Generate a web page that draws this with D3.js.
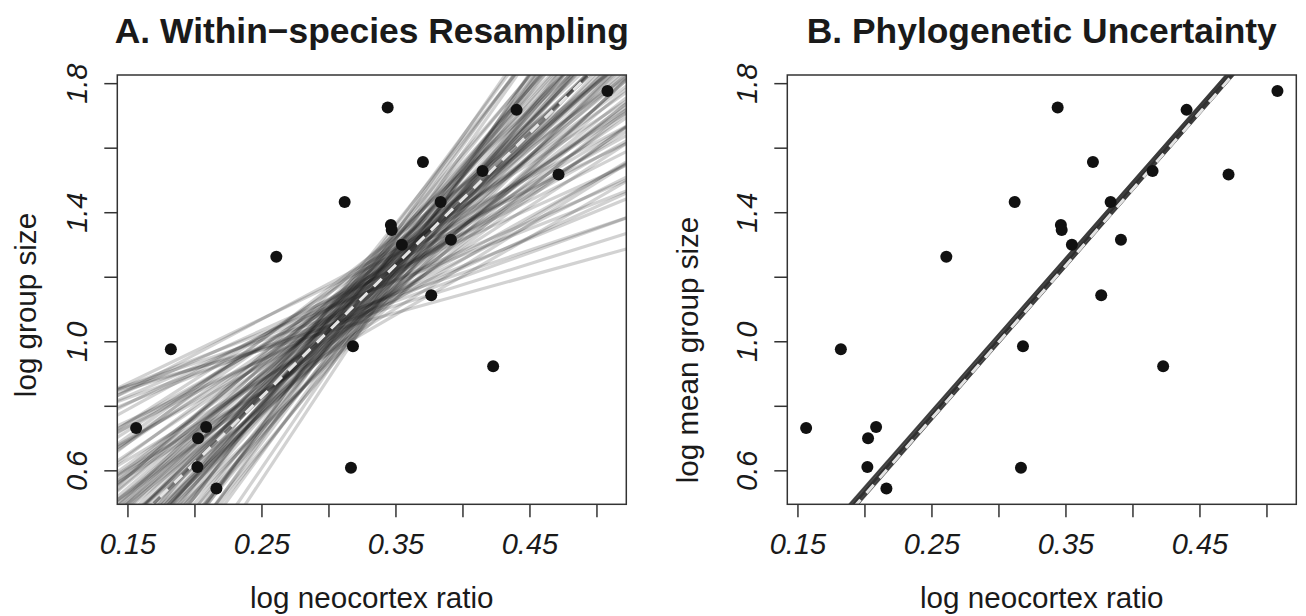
<!DOCTYPE html>
<html>
<head>
<meta charset="utf-8">
<script src="https://cdn.jsdelivr.net/npm/d3@7"></script>
<style>
  body { margin: 0; background: #fff; }
  svg { display: block; font-family: "Liberation Sans", Arial, sans-serif; }
</style>
</head>
<body>
<svg width="1306" height="616"></svg>
<script>
// species points (same in both panels)
const neocortex = [0.3442, 0.4404, 0.5082, 0.3705, 0.4150, 0.4717, 0.3121, 0.3837,
  0.3466, 0.3472, 0.3548, 0.3914, 0.3767, 0.3183, 0.4229, 0.3168, 0.2611, 0.1824,
  0.1565, 0.2087, 0.2027, 0.2022, 0.2164]
const groupSize = [1.7246, 1.7172, 1.7760, 1.5558, 1.5278, 1.5166, 1.4316, 1.4316,
  1.3602, 1.3447, 1.2994, 1.3149, 1.1430, 0.9847, 0.9226, 0.6082, 1.2621, 0.9754,
  0.7314, 0.7345, 0.6991, 0.6104, 0.5440]

// every fitted line is given as slope and its value at x = 0.33
const pivotX = 0.33

// A: regression lines from within-species resampling
const fanSlope = [4.10, 3.90, 4.30, 3.70, 4.50, 3.50, 4.70, 3.30, 4.90, 3.10, 5.10, 2.90,
  5.30, 2.70, 5.50, 2.50, 4.00, 4.20, 3.80, 4.40, 3.60, 4.60, 3.40, 4.80, 3.00, 5.00,
  2.30, 5.80, 2.00, 6.10, 1.70, 1.40, 1.15, 6.30, 4.05, 3.95, 4.15, 3.85, 4.25, 3.75,
  4.35, 3.65, 2.20, 1.90, 2.60, 5.60, 5.20, 3.20, 1.50, 2.80, 5.40, 4.55, 3.55, 1.30,
  2.40, 6.00, 3.35, 4.75, 1.80, 2.10, 2.65, 3.05, 2.35, 3.45,
  4.12, 3.88, 4.28, 3.72, 4.48, 3.52, 4.68, 3.28, 4.88, 3.08, 5.08, 2.88, 5.28, 2.68,
  5.48, 2.48, 4.02, 3.98, 4.22, 3.78, 4.42, 3.58, 4.62, 3.38, 4.82, 3.18, 5.02, 2.98,
  5.22, 2.78, 2.58, 2.28, 2.08, 1.88, 1.62, 5.72, 5.92, 3.92, 4.18, 3.62]
const fanPivot = [1.154, 1.184, 1.124, 1.169, 1.199, 1.109, 1.139, 1.199, 1.184, 1.139,
  1.109, 1.214, 1.169, 1.094, 1.124, 1.184, 1.094, 1.214, 1.079, 1.229, 1.229, 1.079,
  1.064, 1.244, 1.244, 1.064, 1.109, 1.199, 1.229, 1.094, 1.114, 1.114, 1.065, 1.074,
  1.169, 1.139, 1.184, 1.199, 1.109, 1.124, 1.154, 1.154, 1.244, 1.094, 1.049, 1.244,
  1.259, 1.259, 1.094, 1.154, 1.154, 1.169, 1.184, 1.084, 1.034, 1.214, 1.094, 1.214,
  1.154, 1.184, 1.199, 1.079, 1.169, 1.214,
  1.109, 1.214, 1.184, 1.094, 1.139, 1.199, 1.184, 1.124, 1.094, 1.199, 1.214, 1.109,
  1.079, 1.229, 1.229, 1.079, 1.244, 1.049, 1.064, 1.259, 1.154, 1.139, 1.229, 1.169,
  1.124, 1.094, 1.184, 1.154, 1.139, 1.184, 1.154, 1.199, 1.109, 1.184, 1.154, 1.109,
  1.169, 1.154, 1.139, 1.184]

// B: regression lines over the tree sample
const phyloSlope = [4.74, 4.73, 4.75, 4.74, 4.72, 4.76, 4.74, 4.73, 4.75]
const phyloPivot = [1.162, 1.153, 1.154, 1.145, 1.146, 1.146, 1.136, 1.163, 1.135]

// dashed mean fits, panel A then B
const meanSlope = [4.088, 4.74]
const meanPivot = [1.154, 1.139]

const xTicks = [0.15, 0.20, 0.25, 0.30, 0.35, 0.40, 0.45, 0.50]
const xTickLabels = ['0.15', '0.25', '0.35', '0.45']
const yTicks = [0.6, 0.8, 1.0, 1.2, 1.4, 1.6, 1.8]
const yTickLabels = ['0.6', '1.0', '1.4', '1.8']

const titles = ['A. Within\u2212species Resampling', 'B. Phylogenetic Uncertainty']
const yTitles = ['log group size', 'log mean group size']
const xTitle = 'log neocortex ratio'

const svg = d3.select('svg')
const plotTop = 75, plotBottom = 504.3, boxW = 509
const lefts = [117.3, 787.3]
const yTitleX = [36, 698]
const yTitleMid = [305, 350]

// R style axis range: data range padded by 4%
function pad (ext) {
  const r = ext[1] - ext[0]
  return [ext[0] - 0.04 * r, ext[1] + 0.04 * r]
}
const xDom = pad(d3.extent(neocortex))
const yDom = pad(d3.extent(groupSize))

lefts.forEach((left, i) => {
  const x = d3.scaleLinear().domain(xDom).range([left, left + boxW])
  const y = d3.scaleLinear().domain(yDom).range([plotBottom, plotTop])
  const g = svg.append('g')

  g.append('clipPath').attr('id', 'clip' + i).
    append('rect').
    attr('x', left).attr('y', plotTop).
    attr('width', boxW).attr('height', plotBottom - plotTop)

  const lines = g.append('g').attr('clip-path', `url(#clip${i})`)
  const fit = (p, b) => sel => sel.
    attr('x1', x(xDom[0])).attr('y1', y(p + b * (xDom[0] - pivotX))).
    attr('x2', x(xDom[1])).attr('y2', y(p + b * (xDom[1] - pivotX)))

  if (i === 0) {
    lines.selectAll('line.fan').data(d3.zip(fanPivot, fanSlope)).
      join('line').
      attr('class', 'fan').
      each(function (d) { d3.select(this).call(fit(d[0], d[1])) }).
      attr('stroke', '#202020').
      attr('stroke-opacity', 0.2).
      attr('stroke-width', 3.2)
  } else {
    lines.selectAll('line.phy').data(d3.zip(phyloPivot, phyloSlope)).
      join('line').
      attr('class', 'phy').
      each(function (d) { d3.select(this).call(fit(d[0], d[1])) }).
      attr('stroke', '#2a2a2a').
      attr('stroke-opacity', 0.7).
      attr('stroke-width', 2)
  }

  lines.append('line').
    call(fit(meanPivot[i], meanSlope[i])).
    attr('stroke', '#e4e4e4').
    attr('stroke-width', 3).
    attr('stroke-dasharray', '11,9')

  g.selectAll('circle').data(d3.zip(neocortex, groupSize)).
    join('circle').
    attr('cx', d => x(d[0])).
    attr('cy', d => y(d[1])).
    attr('r', 6).
    attr('fill', '#111')

  g.append('rect').
    attr('x', left).attr('y', plotTop).
    attr('width', boxW).attr('height', plotBottom - plotTop).
    attr('fill', 'none').
    attr('stroke', '#333').
    attr('stroke-width', 1.5)

  // x axis
  const xAxis = g.append('g').attr('transform', `translate(0,${plotBottom})`).
    call(d3.axisBottom(x).tickValues(xTicks).tickSize(13).tickPadding(16).
      tickFormat(d => xTickLabels.includes(d.toFixed(2)) ? d.toFixed(2) : ''))
  xAxis.select('.domain').remove()
  xAxis.selectAll('line').attr('stroke', '#333').attr('stroke-width', 1.5)
  xAxis.selectAll('text').
    attr('font-size', 29).
    attr('font-style', 'italic').
    attr('font-family', '"Liberation Sans", Arial, sans-serif').
    attr('fill', '#1a1a1a')

  // y axis
  const yAxis = g.append('g').attr('transform', `translate(${left},0)`).
    call(d3.axisLeft(y).tickValues(yTicks).tickSize(13).
      tickFormat(d => yTickLabels.includes(d.toFixed(1)) ? d.toFixed(1) : ''))
  yAxis.select('.domain').remove()
  yAxis.selectAll('line').attr('stroke', '#333').attr('stroke-width', 1.5)
  yAxis.selectAll('text').
    attr('x', null).attr('dy', null).
    attr('transform', 'translate(-30,0) rotate(-90)').
    attr('text-anchor', 'middle').
    attr('font-size', 29).
    attr('font-style', 'italic').
    attr('font-family', '"Liberation Sans", Arial, sans-serif').
    attr('fill', '#1a1a1a')

  const mid = left + boxW / 2
  g.append('text').
    attr('x', mid).attr('y', 43).
    attr('text-anchor', 'middle').
    attr('font-size', 35.4).
    attr('font-weight', 'bold').
    attr('fill', '#1a1a1a').
    text(titles[i])

  g.append('text').
    attr('x', mid).attr('y', 608).
    attr('text-anchor', 'middle').
    attr('font-size', 29.6).
    attr('fill', '#1a1a1a').
    text(xTitle)

  g.append('text').
    attr('transform', `translate(${yTitleX[i]},${yTitleMid[i]}) rotate(-90)`).
    attr('text-anchor', 'middle').
    attr('font-size', 29.6).
    attr('fill', '#1a1a1a').
    text(yTitles[i])
})
</script>
</body>
</html>
